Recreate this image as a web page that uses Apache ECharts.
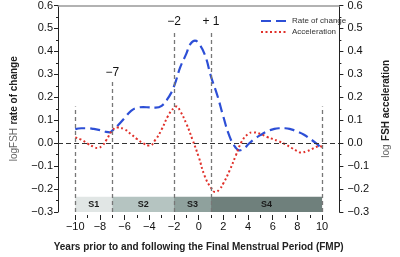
<!DOCTYPE html>
<html>
<head>
<meta charset="utf-8">
<script src="https://cdn.jsdelivr.net/npm/echarts@6/dist/echarts.min.js"></script>
<style>
  html, body { margin: 0; padding: 0; background: #fff; }
  #chart { width: 400px; height: 257px; }
</style>
</head>
<body>
<div id="chart"></div>
<script>
// 曲线数据：年份（相对 FMP）
var rateYears = [-10, -9.5, -9, -8.5, -8, -7.5, -7.2, -7, -6.5, -6, -5.5, -5, -4.5, -4, -3.5, -3, -2.5, -2, -1.5, -1, -0.7, -0.3, 0, 0.5, 1, 1.5, 2, 2.5, 3, 3.3, 3.7, 4, 4.5, 5, 5.5, 6, 6.5, 7, 7.5, 8, 8.5, 9, 9.5, 10];
var rateValues = [0.061, 0.065, 0.065, 0.062, 0.057, 0.049, 0.047, 0.055, 0.08, 0.11, 0.14, 0.154, 0.157, 0.156, 0.155, 0.163, 0.195, 0.248, 0.33, 0.39, 0.43, 0.447, 0.435, 0.385, 0.29, 0.21, 0.115, 0.03, -0.02, -0.031, -0.022, -0.006, 0.018, 0.035, 0.05, 0.06, 0.065, 0.065, 0.06, 0.05, 0.038, 0.02, 0.0, -0.024];

var accelYears = [-10, -9.5, -9, -8.5, -8.2, -7.8, -7.5, -7, -6.6, -6, -5.5, -5, -4.5, -4, -3.5, -3, -2.5, -2, -1.8, -1.5, -1, -0.5, 0, 0.5, 1, 1.35, 1.7, 2, 2.5, 3, 3.5, 4, 4.4, 5, 5.5, 6, 6.5, 7, 7.5, 8, 8.3, 8.7, 9, 9.5, 9.8, 10];
var accelValues = [0.025, 0.015, -0.002, -0.016, -0.021, -0.01, 0.012, 0.055, 0.068, 0.06, 0.04, 0.018, 0.0, -0.01, 0.015, 0.06, 0.117, 0.155, 0.16, 0.14, 0.085, 0.015, -0.06, -0.145, -0.195, -0.213, -0.2, -0.175, -0.12, -0.055, 0.008, 0.04, 0.047, 0.04, 0.028, 0.018, 0.008, -0.004, -0.02, -0.035, -0.041, -0.036, -0.03, -0.017, -0.012, -0.018];

// 阶段分界和竖线
var stageBounds = [-10, -7, -2, 1, 10];
var boundTops = [0.16, 0.27, 0.49, 0.49, 0.16];
var boundLabels = ['', '\u22127', '\u22122', '+ 1', ''];
var stageNames = ['S1', 'S2', 'S3', 'S4'];
var stageColors = ['#e1e6e5', '#b5c4c1', '#8fa19d', '#6f807c'];
var bandTop = -0.234;

var xTicks = [-10, -8, -6, -4, -2, 0, 2, 4, 6, 8, 10];
var xMinorTicks = [-9, -7, -5, -3, -1, 1, 3, 5, 7, 9];

var chart = echarts.init(document.getElementById('chart'));

function yFmt(v) {
  if (Math.abs(v) < 1e-9) return '0.0';
  return (v < 0 ? '\u2212' : '') + Math.abs(v).toFixed(1);
}
function xFmt(v) {
  return (v < 0 ? '\u2212' : '') + Math.abs(v);
}

var markLines = stageBounds.map(function (b, i) {
  return [
    { coord: [b, -0.3] },
    {
      coord: [b, boundTops[i]],
      label: { show: boundLabels[i] !== '', formatter: boundLabels[i], position: 'end', distance: 3, color: '#111', fontSize: 12, fontFamily: 'Liberation Sans' }
    }
  ];
});
markLines.push({ yAxis: 0, lineStyle: { color: '#333', type: [5, 3], width: 1 }, label: { show: false } });

var bands = [];
for (var i = 0; i < stageNames.length; i++) {
  bands.push([
    { xAxis: stageBounds[i], yAxis: -0.3, name: stageNames[i], itemStyle: { color: stageColors[i] } },
    { xAxis: stageBounds[i + 1], yAxis: bandTop }
  ]);
}

var option = {
  animation: false,
  grid: { left: 53, right: 56, top: 3, bottom: 42 },
  legend: {
    orient: 'vertical',
    left: 255,
    top: 12,
    itemWidth: 26,
    itemHeight: 8,
    itemGap: 3,
    itemStyle: { opacity: 0 },
    textStyle: { fontSize: 8, color: '#333', fontFamily: 'Liberation Sans' },
    data: ['Rate of change', 'Acceleration']
  },
  xAxis: [{
    type: 'value',
    min: -11.4,
    max: 11.4,
    offset: 3,
    name: 'Years prior to and following the Final Menstrual Period (FMP)',
    nameLocation: 'middle',
    nameGap: 27,
    nameTextStyle: { fontSize: 10, fontWeight: 'bold', color: '#222', fontFamily: 'Liberation Sans' },
    splitLine: { show: false },
    axisLine: { show: false, onZero: false },
    axisTick: { show: true, length: 5, lineStyle: { color: '#222' }, customValues: xTicks },
    axisLabel: { customValues: xTicks, formatter: xFmt, fontSize: 11, color: '#111', margin: 6, fontFamily: 'Liberation Sans' }
  }, {
    type: 'value',
    min: -11.4,
    max: 11.4,
    offset: 3,
    position: 'bottom',
    splitLine: { show: false },
    axisLine: { show: false, onZero: false },
    axisTick: { show: true, length: 3, lineStyle: { color: '#222' }, customValues: xMinorTicks },
    axisLabel: { show: false }
  }, {
    type: 'value',
    min: -11.4,
    max: 11.4,
    position: 'top',
    splitLine: { show: false },
    axisLine: { show: true, onZero: false, lineStyle: { color: '#999', width: 1.5 } },
    axisTick: { show: false },
    axisLabel: { show: false }
  }],
  yAxis: [{
    type: 'value',
    min: -0.3,
    max: 0.6,
    interval: 0.1,
    position: 'left',
    name: '{a|logFSH} {b|rate of change}',
    nameLocation: 'middle',
    nameRotate: 90,
    nameGap: 38,
    nameTextStyle: {
      rich: {
        a: { fontSize: 10, color: '#666', fontFamily: 'Liberation Sans' },
        b: { fontSize: 10, color: '#222', fontWeight: 'bold', fontFamily: 'Liberation Sans' }
      }
    },
    splitLine: { show: false },
    axisLine: { show: true, onZero: false, lineStyle: { color: '#222' } },
    axisTick: { show: true, length: 4, lineStyle: { color: '#222' } },
    minorTick: { show: true, splitNumber: 2, length: 2, lineStyle: { color: '#222' } },
    axisLabel: { formatter: yFmt, fontSize: 11, color: '#111', margin: 5, fontFamily: 'Liberation Sans' }
  }, {
    type: 'value',
    min: -0.3,
    max: 0.6,
    interval: 0.1,
    position: 'right',
    name: '{a|log} {b|FSH acceleration}',
    nameLocation: 'middle',
    nameRotate: 90,
    nameGap: 38,
    nameTextStyle: {
      rich: {
        a: { fontSize: 10, color: '#666', fontFamily: 'Liberation Sans' },
        b: { fontSize: 10, color: '#222', fontWeight: 'bold', fontFamily: 'Liberation Sans' }
      }
    },
    splitLine: { show: false },
    axisLine: { show: true, onZero: false, lineStyle: { color: '#222' } },
    axisTick: { show: true, length: 4, lineStyle: { color: '#222' } },
    minorTick: { show: true, splitNumber: 2, length: 2, lineStyle: { color: '#222' } },
    axisLabel: { formatter: yFmt, fontSize: 11, color: '#111', margin: 8, fontFamily: 'Liberation Sans' }
  }],
  series: [{
    name: 'guides',
    type: 'line',
    data: [[-10, -0.3]],
    symbol: 'none',
    lineStyle: { width: 0 },
    z: 1,
    silent: true,
    markArea: {
      silent: true,
      label: { show: true, position: 'inside', fontSize: 9, fontWeight: 'bold', color: '#1a1a1a', fontFamily: 'Liberation Sans' },
      data: bands
    },
    markLine: {
      silent: true,
      symbol: 'none',
      lineStyle: { color: '#777', type: [4, 3], width: 1.3 },
      label: { show: false },
      data: markLines
    }
  }, {
    name: 'Rate of change',
    type: 'line',
    smooth: 0.5,
    symbol: 'none',
    z: 3,
    color: '#2d4fd6',
    lineStyle: { color: '#2d4fd6', width: 2.2, type: [10, 5] },
    data: rateYears.map(function (x, i) { return [x, rateValues[i]]; })
  }, {
    name: 'Acceleration',
    type: 'line',
    smooth: 0.5,
    symbol: 'none',
    yAxisIndex: 1,
    z: 3,
    color: '#e0302a',
    lineStyle: { color: '#e0302a', width: 2, type: [2, 2.5] },
    data: accelYears.map(function (x, i) { return [x, accelValues[i]]; })
  }]
};

chart.setOption(option);
</script>
</body>
</html>
